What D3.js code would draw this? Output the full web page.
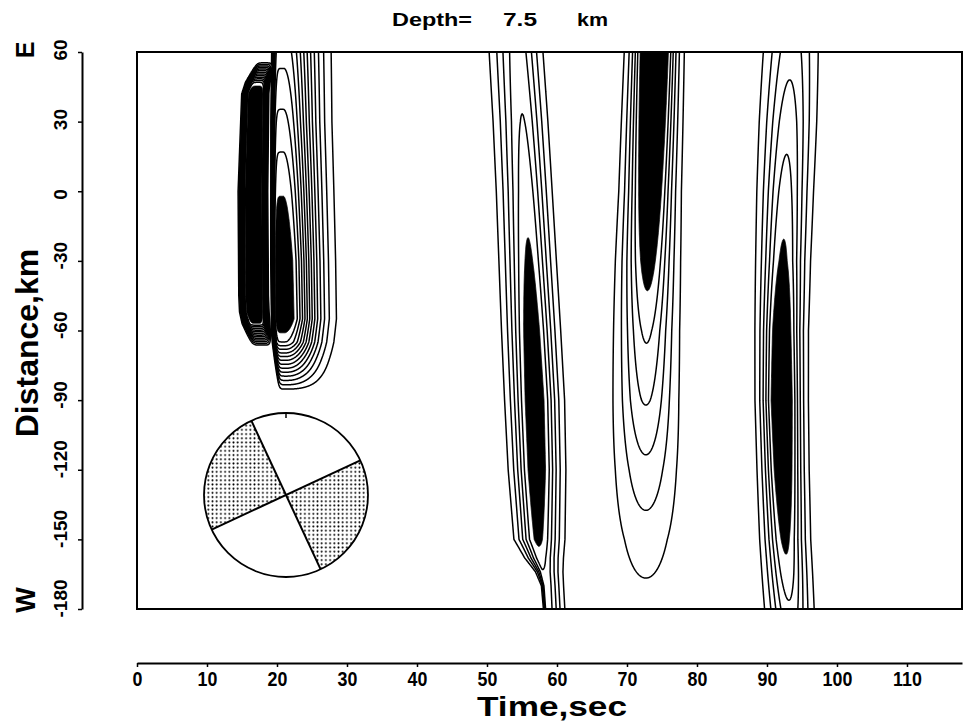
<!DOCTYPE html>
<html><head><meta charset="utf-8">
<script src="https://cdn.jsdelivr.net/npm/d3@7"></script>
<style>
body{margin:0;background:#fff}
svg{display:block}
text{font-family:"Liberation Sans",Arial,Helvetica,sans-serif;font-weight:bold;fill:#000}
</style>
</head><body>
<svg id="chart" width="963" height="722"></svg>
<script>
// ---------------- axes ----------------
const timeDomain = [0, 117.86];
const distDomain = [-180, 60];
const timeTicks = [0,10,20,30,40,50,60,70,80,90,100,110];
const distTicks = [60,30,0,-30,-60,-90,-120,-150,-180];

// ---------------- wave groups ----------------
// group A, first lobe
const a1Dist = [56, 52, 47, 42, 0, -45, -52, -57, -62, -67];
const a1Time = [18.3, 17.9, 17.3, 17.0, 16.7, 16.8, 16.9, 17.1, 17.5, 17.9];
const a1Amp  = [0, 6, 13, 16, 16.5, 16.5, 16, 14, 7, 0];
const a1WL   = [0.9, 1.1, 1.3, 1.45, 1.6, 1.6, 1.6, 1.5, 1.3, 1.1];
const a1WR   = [0.9, 1.0, 1.2, 1.3, 1.4, 1.4, 1.4, 1.35, 1.2, 1.0];
// group A, second lobe
const a2Dist = [60, 30, 0, -30, -55, -65, -72, -80, -86];
const a2Time = [21.0, 20.9, 20.9, 20.9, 21.0, 21.1, 21.3, 21.5, 21.6];
const a2Amp  = [10.6, 12.3, 13.9, 15.3, 15.5, 13.0, 8.5, 3.8, 0.6];
const a2WL   = [1.45, 1.45, 1.45, 1.45, 1.45, 1.45, 1.4, 1.3, 1.2];
const a2WR   = [3.1, 3.1, 3.15, 3.2, 3.2, 3.1, 3.0, 2.9, 2.8];
// group B
const bDist = [60, 30, 0, -30, -60, -90, -120, -150, -158, -164, -170, -180];
const bTime = [54.5, 55.1, 55.6, 56.0, 56.4, 56.8, 57.1, 57.3, 57.6, 58.0, 58.3, 58.5];
const bAmp  = [4.6, 5.05, 5.6, 6.2, 6.9, 7.3, 7.2, 6.3, 5.5, 4.9, 4.7, 4.6];
const bWL   = [2.4, 2.35, 2.3, 2.25, 2.2, 2.15, 2.05, 1.8, 1.2, 0.6, 0.3, 0.25];
const bWR   = [2.0, 2.0, 2.0, 2.05, 2.1, 2.15, 2.1, 2.0, 1.8, 1.6, 1.5, 1.5];
// group C
const cDist = [60, 30, 0, -30, -60, -90, -120, -150, -180];
const cTime = [73.9, 73.6, 73.3, 73.0, 72.8, 72.7, 72.7, 72.7, 72.7];
const cAmp  = [10, 9.0, 7.9, 6.6, 5.2, 4.1, 2.7, 1.5, 0.6];
const cW    = [2.0, 2.1, 2.2, 2.4, 2.6, 2.8, 3.1, 3.4, 3.6];
// group D
const dDist = [60, 30, 0, -30, -60, -90, -120, -150, -165, -180];
const dTime = [93.4, 93.0, 92.6, 92.3, 92.1, 92.1, 92.3, 92.6, 92.9, 93.2];
const dAmp  = [3.6, 4.6, 5.45, 6.25, 7.6, 8.4, 7.6, 6.3, 5.6, 4.8];
const dW    = [2.45, 2.35, 2.2, 2.05, 1.9, 1.85, 1.85, 1.9, 1.95, 2.0];

// focal mechanism: strikes of the two nodal planes (deg, clockwise from top)
const nodalStrikes = [335, 65];
// quadrants with stipple [from, to] in degrees
const shadedQuadrants = [[245, 335], [65, 155]];

const groups = [
  {window:[8, 40], dt:0.05, lines:13, black:14, comps:[
    {dist:a1Dist, time:a1Time, amp:a1Amp, wl:a1WL, wr:a1WR, pl:5, pr:5},
    {dist:a2Dist, time:a2Time, amp:a2Amp, wl:a2WL, wr:a2WR, pl:8, pr:2}]},
  {window:[44, 68], dt:0.08, lines:5, black:6, comps:[
    {dist:bDist, time:bTime, amp:bAmp, wl:bWL, wr:bWR, pl:2, pr:2}]},
  {window:[62, 88], dt:0.08, lines:5, black:6, comps:[
    {dist:cDist, time:cTime, amp:cAmp, wl:cW, wr:cW, pl:2, pr:2}]},
  {window:[82, 104], dt:0.08, lines:5, black:6, comps:[
    {dist:dDist, time:dTime, amp:dAmp, wl:dW, wr:dW, pl:2, pr:2}]}
];

// ---------------- drawing ----------------
const svg = d3.select('#chart');
const frame = {left:137, top:52, right:962, bottom:609};
const x = d3.scaleLinear().domain(timeDomain).range([frame.left, frame.right]);
const y = d3.scaleLinear().domain(distDomain).range([frame.bottom, frame.top]);

const defs = svg.append('defs');
defs.append('clipPath').attr('id','clip').append('rect')
  .attr('x', frame.left).attr('y', frame.top)
  .attr('width', frame.right-frame.left).attr('height', frame.bottom-frame.top);
const pat = defs.append('pattern').attr('id','stip').attr('patternUnits','userSpaceOnUse')
  .attr('width', 4.2).attr('height', 4.2);
pat.append('circle').attr('cx', 2.1).attr('cy', 2.1).attr('r', 0.95).attr('fill', '#000');

const plot = svg.append('g').attr('clip-path','url(#clip)');

groups.forEach(G => {
  const comps = G.comps.map(c => {
    const s = arr => d3.scaleLinear().domain(c.dist).range(arr).clamp(true);
    return {tc:s(c.time), amp:s(c.amp), wl:s(c.wl), wr:s(c.wr), pl:c.pl, pr:c.pr};
  });
  const [t0, t1] = G.window, dt = G.dt;
  const d0 = distDomain[1] + 2, d1 = distDomain[0] - 2, dd = 0.4;
  const nx = Math.round((t1 - t0) / dt) + 1;
  const ny = Math.round((d0 - d1) / dd) + 1;
  const vals = new Float64Array(nx * ny);
  for (let j = 0; j < ny; j++) {
    const d = d0 - j * dd;
    const rows = comps.map(c => ({A:c.amp(d), tc:c.tc(d), wl:c.wl(d), wr:c.wr(d), pl:c.pl, pr:c.pr}));
    for (let i = 0; i < nx; i++) {
      const t = t0 + i * dt;
      let v = 0;
      for (const r of rows) {
        if (r.A <= 0) continue;
        const left = t < r.tc;
        const u = Math.abs(t - r.tc) / (left ? r.wl : r.wr);
        const val = r.A * Math.exp(-0.5 * Math.pow(u, left ? r.pl : r.pr));
        if (val > v) v = val;
      }
      vals[j * nx + i] = v;
    }
  }
  const thr = d3.range(1, G.lines + 1).concat([G.black]);
  const cs = d3.contours().size([nx, ny]).thresholds(thr)(vals);
  const proj = d3.geoTransform({point(gx, gy) {
    this.stream.point(x(t0 + (gx - 0.5) * dt), y(d0 - (gy - 0.5) * dd));
  }});
  const path = d3.geoPath(proj);
  plot.append('path').attr('d', path(cs[cs.length - 1]))
    .attr('fill', '#000').attr('stroke', '#000').attr('stroke-width', 0.8);
  plot.selectAll(null).data(cs.slice(0, -1)).join('path')
    .attr('d', path).attr('fill', 'none').attr('stroke', '#000').attr('stroke-width', 1.5);
});

// frame
svg.append('rect').attr('x', frame.left).attr('y', frame.top)
  .attr('width', frame.right-frame.left).attr('height', frame.bottom-frame.top)
  .attr('fill', 'none').attr('stroke', '#000').attr('stroke-width', 2);

// focal mechanism
const bb = {cx:286, cy:495, r:82};
const rad = a => a * Math.PI / 180;
const ball = svg.append('g').attr('transform', `translate(${bb.cx},${bb.cy})`);
ball.append('circle').attr('r', bb.r).attr('fill', '#fff');
const arc = d3.arc().innerRadius(0).outerRadius(bb.r);
ball.selectAll('path.q').data(shadedQuadrants).join('path').attr('class','q')
  .attr('d', q => arc({startAngle:rad(q[0]), endAngle:rad(q[1])})).attr('fill', 'url(#stip)');
ball.selectAll('line.p').data(nodalStrikes).join('line').attr('class','p')
  .attr('x1', s => bb.r*Math.sin(rad(s))).attr('y1', s => -bb.r*Math.cos(rad(s)))
  .attr('x2', s => -bb.r*Math.sin(rad(s))).attr('y2', s => bb.r*Math.cos(rad(s)))
  .attr('stroke', '#000').attr('stroke-width', 2);
ball.append('circle').attr('r', bb.r).attr('fill', 'none').attr('stroke', '#000').attr('stroke-width', 1.8);
ball.append('line').attr('x1', 0).attr('y1', -bb.r).attr('x2', 0).attr('y2', -bb.r + 5)
  .attr('stroke', '#000').attr('stroke-width', 1.5);

// y axis
const yAxis = svg.append('g').attr('transform', 'translate(82,0)')
  .call(d3.axisLeft(y).tickValues(distTicks).tickSize(4).tickSizeOuter(0).tickFormat(d => String(d)));
yAxis.attr('font-family', null).attr('font-size', null);
yAxis.select('.domain').attr('stroke-width', 2);
yAxis.selectAll('.tick line').attr('stroke-width', 1.5);
yAxis.selectAll('.tick text').attr('transform', 'rotate(-90)').attr('text-anchor', 'start')
  .attr('x', -8).attr('y', -15).attr('dy', null)
  .style('font-size', '19px');

// x axis
const xAxis = svg.append('g').attr('transform', 'translate(0,663)')
  .call(d3.axisBottom(x).tickValues(timeTicks).tickSize(4).tickSizeOuter(0).tickFormat(d => String(d)));
xAxis.attr('font-family', null).attr('font-size', null);
xAxis.select('.domain').attr('stroke-width', 2);
xAxis.selectAll('.tick line').attr('stroke-width', 1.5);
xAxis.selectAll('.tick text').attr('y', 23).attr('dy', null)
  .attr('transform', 'scale(0.85,1)').style('font-size', '21px');

// titles
svg.append('text').attr('x', 392).attr('y', 26).style('font-size', '18px')
  .attr('textLength', 80).attr('lengthAdjust', 'spacingAndGlyphs').text('Depth=');
svg.append('text').attr('x', 503).attr('y', 26).style('font-size', '18px')
  .attr('textLength', 34).attr('lengthAdjust', 'spacingAndGlyphs').text('7.5');
svg.append('text').attr('x', 577).attr('y', 26).style('font-size', '18px')
  .attr('textLength', 31).attr('lengthAdjust', 'spacingAndGlyphs').text('km');

svg.append('text').attr('x', 552).attr('y', 716).attr('text-anchor', 'middle')
  .style('font-size', '27px').attr('textLength', 150).attr('lengthAdjust', 'spacingAndGlyphs')
  .text('Time,sec');
svg.append('text').attr('transform', 'translate(38,343) rotate(-90)').attr('text-anchor', 'middle')
  .style('font-size', '32px').text('Distance,km');
svg.append('text').attr('transform', 'translate(34,50) rotate(-90)').attr('text-anchor', 'middle')
  .style('font-size', '25px').text('E');
svg.append('text').attr('transform', 'translate(35,600) rotate(-90)').attr('text-anchor', 'middle')
  .style('font-size', '27px').text('W');
</script>
</body></html>
